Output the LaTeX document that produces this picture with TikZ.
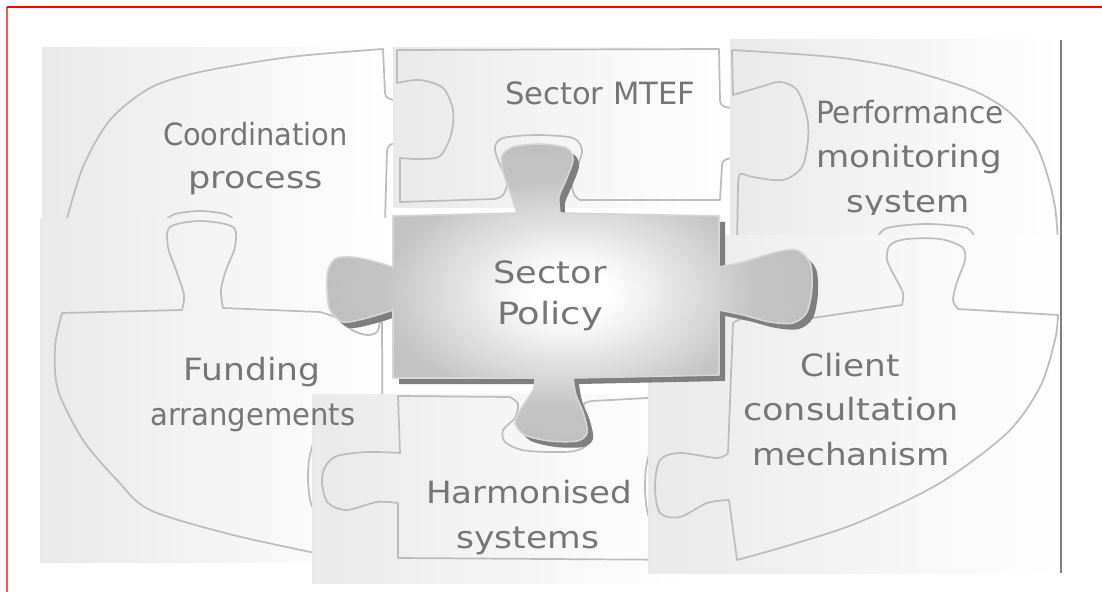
\documentclass[tikz,border=0pt]{standalone}
\usepackage{fontspec}
\setmainfont{DejaVu Sans}
\usepackage{graphicx}
\definecolor{txtgray}{HTML}{767676}
\definecolor{lineg}{HTML}{BDBDBD}
\definecolor{shadowg}{HTML}{7F7F7F}
\definecolor{framered}{HTML}{FF5555}
\pgfdeclareradialshading{centreshade}{\pgfpoint{0bp}{0bp}}{color(0bp)=(white); color(4bp)=(white); color(19bp)=(gray!46); color(25bp)=(gray!50); color(50bp)=(gray!50)}
\tikzset{
  panel/.style={left color=gray!17, right color=white, draw=none},
  outl/.style={draw=lineg, line width=1.3pt, line join=round},
  lbl/.style={inner sep=0pt, anchor=base, text=txtgray, font=\fontsize{23pt}{27pt}\selectfont},
}
\begin{document}
\begin{tikzpicture}[x=0.75pt, y=-0.75pt]
\useasboundingbox (0,0) rectangle (1102,592);
\fill[white] (0,0) rectangle (1102,592);
% frame
\draw[framered, line width=1.5pt] (7,7) -- (7,592);
\draw[red, line width=0.8pt] (7,7) -- (1102,7);

% ---- Coordination panel
\begin{scope}
\clip (42,48) rectangle (394,218);
\shade[panel] (42,48) rectangle (394,218);
\draw[outl] plot[smooth] coordinates {(66,222) (83,167) (110,120) (150,88) (200,72) (290,57) (383,49)} -- (385,93) to[out=-90,in=180] (396,100) -- (420,100);
\draw[outl] (420,143) -- (396,143) to[out=180,in=90] (387,151) -- (385,222);
\draw[outl] plot[smooth] coordinates {(163,222) (175,214) (200,211) (225,214) (237,222)};
\end{scope}

% ---- Sector MTEF panel
\begin{scope}
\clip (393,48) rectangle (730,207);
\shade[panel] (393,48) rectangle (730,207);
\draw[outl] (397,50) -- (719,49) -- (720,101) to[out=-90,in=180] (734,108) -- (750,108);
\draw[outl] (750,158) -- (734,158) to[out=180,in=90] (722,165) -- (720,200) -- (580,200)
  -- plot[smooth] coordinates {(580,200) (575,196) (572,185) (578,165) (582,150) (573,138) (537,135) (503,138) (495,147) (498,160) (507,182) (503,195) (495,199)}
  -- (400,202) -- (400,158)
  -- plot[smooth] coordinates {(400,158) (420,159) (440,156) (451,135) (453,110) (443,88) (420,80) (397,83)} -- (397,50);
\end{scope}

% ---- Performance panel
\begin{scope}
\clip (730,40) rectangle (1060,235);
\shade[panel] (730,40) rectangle (1060,235);
\draw[outl] plot[smooth] coordinates {(732,50) (833,57) (900,68) (967,88) (1000,105) (1020,123) (1037,147) (1048,177) (1055,207) (1058,240)};
\draw[outl] (732,50) -- (733,95)
  -- plot[smooth] coordinates {(733,95) (760,87) (780,82) (797,90) (807,117) (808,140) (802,167) (783,180) (753,177) (740,174) (738,187)} -- (737,240);
\draw[outl] plot[smooth] coordinates {(876,240) (887,228) (927,224) (967,228) (975,240)};
\end{scope}

% ---- Funding panel
\begin{scope}
\clip (40,218) rectangle (393,562);
\shade[panel] (40,218) rectangle (393,562);
\draw[outl] plot[smooth] coordinates {(330,556) (233,535) (150,510) (117,480) (83,440) (58,390) (55,347) (62,313)} -- (182,310)
  -- plot[smooth] coordinates {(182,310) (184,295) (176,270) (168,247) (170,227) (200,221) (233,227) (235,247) (226,270) (221,290) (223,308)}
  -- (320,312)
  -- plot[smooth] coordinates {(320,312) (337,318) (352,330) (367,335) (377,332) (380,320) (380,300)};
\draw[outl] (382,318) -- (383,570);
\draw[outl] plot[smooth] coordinates {(314,440) (309,460) (308,480) (310,500) (314,510)};
\end{scope}

% ---- Harmonised panel
\begin{scope}
\clip (312,394) rectangle (683,583);
\shade[panel] (312,394) rectangle (683,583);
\draw[outl] (398,396) -- (510,397)
  -- plot[smooth] coordinates {(510,397) (518,404) (515,418) (503,430) (505,442) (522,450) (550,452) (575,451) (588,444) (590,430) (585,415) (584,404) (592,401)}
  -- (648,398) -- (700,398) -- (700,560) -- (398,558) -- (398,503)
  -- plot[smooth] coordinates {(398,503) (377,502) (347,510) (328,503) (322,483) (325,467) (337,456) (367,452) (400,453)}
  -- cycle;
\draw[outl] plot[smooth] coordinates {(651,446) (646,468) (645,490) (647,510) (651,524)};
\end{scope}

% ---- Client panel
\begin{scope}
\clip (648,235) rectangle (1060,573);
\shade[panel] (648,235) rectangle (1060,573);
\draw[outl] plot[smooth] coordinates {(733,323) (742,319) (760,322) (780,327) (800,326) (812,318)} -- (902,305)
  -- plot[smooth] coordinates {(902,305) (903,293) (895,277) (887,260) (890,245) (907,239) (940,239) (962,247) (965,260) (957,282) (953,300) (958,309)}
  -- (1058,315)
  -- plot[smooth] coordinates {(1058,315) (1055,340) (1040,387) (1007,433) (940,483) (857,523) (790,545) (737,560)}
  -- (729,500)
  -- plot[smooth] coordinates {(729,500) (707,503) (680,517) (660,513) (655,487) (660,460) (680,453) (717,458) (728,453)}
  -- (733,323);
\end{scope}

% right rule
\draw[gray, line width=1.2pt] (1061,40) -- (1061,573);

% ---- labels on the panels
\node[lbl] (coord1) at (255.5,145) {\resizebox{138.75pt}{\height}{Coordination}};
\node[lbl] (coord2) at (255.5,188) {\resizebox{101.25pt}{\height}{process}};
\node[lbl] (mtef) at (600,104) {\resizebox{142.5pt}{\height}{Sector MTEF}};
\node[lbl] (perf1) at (910,123) {\resizebox{141pt}{\height}{Performance}};
\node[lbl] (perf2) at (909,167) {\resizebox{139.5pt}{\height}{monitoring}};
\begin{scope}
\clip (730,150) rectangle (1060,214);
\node[lbl] (perf3) at (908,212) {\resizebox{92.25pt}{\height}{system}};
\end{scope}
\node[lbl] (fund1) at (252,380) {\resizebox{102.75pt}{\height}{Funding}};
\node[lbl] (fund2) at (253,425) {\resizebox{153.75pt}{\height}{arrangements}};
\node[lbl] (harm1) at (529,503) {\resizebox{154.5pt}{\height}{Harmonised}};
\node[lbl] (harm2) at (528,548) {\resizebox{107.25pt}{\height}{systems}};
\node[lbl] (cli1) at (850,376) {\resizebox{74.25pt}{\height}{Client}};
\node[lbl] (cli2) at (851,420) {\resizebox{162pt}{\height}{consultation}};
\node[lbl] (cli3) at (851,465) {\resizebox{148.5pt}{\height}{mechanism}};

% ---- central piece
\def\centrepiece{(393,216) -- (517,213)
  -- plot[smooth] coordinates {(517,213) (511,195) (503,172) (502,156) (513,147) (540,144) (567,148) (573,160) (566,180) (559,197) (560,213)}
  -- (719,216) -- (719,267)
  -- plot[smooth] coordinates {(719,267) (743,262) (777,252) (797,250) (810,263) (812,287) (807,312) (793,323) (770,322) (743,315) (719,310)}
  -- (719,375) -- (573,378)
  -- plot[smooth] coordinates {(573,378) (576,395) (584,415) (587,433) (577,441) (550,441) (525,435) (515,423) (522,407) (533,390) (535,378)}
  -- (393,378) -- (393,310)
  -- plot[smooth] coordinates {(393,310) (367,318) (343,322) (330,310) (327,290) (328,270) (337,258) (360,258) (393,267)}
  -- cycle}
\begin{scope}[shift={(6,6)}]
\fill[shadowg] \centrepiece;
\end{scope}
\shade[shading=centreshade, draw=gray!32, line width=1.2pt, line join=round] \centrepiece;
\node[lbl] (pol1) at (550,283) {\resizebox{84.75pt}{\height}{Sector}};
\node[lbl] (pol2) at (550,324) {\resizebox{79.5pt}{\height}{Policy}};
\end{tikzpicture}
\end{document}
